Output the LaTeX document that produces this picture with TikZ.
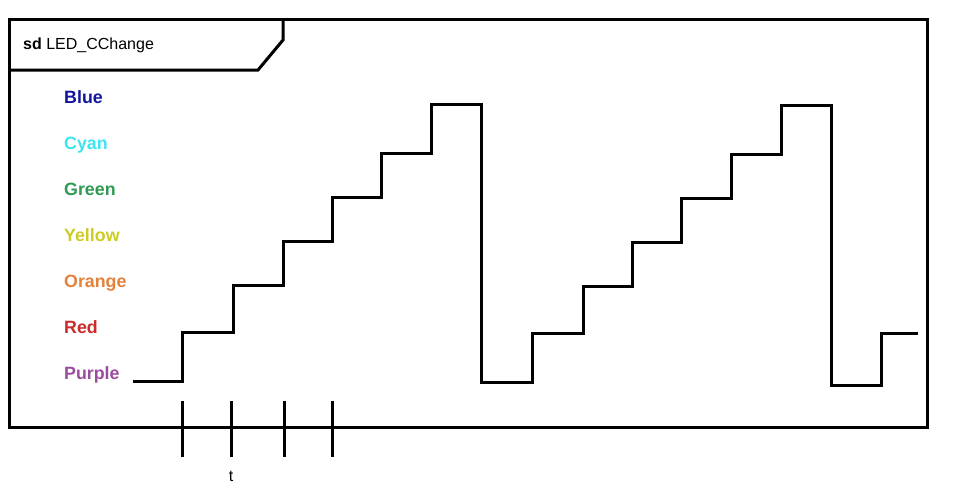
\documentclass[tikz,border=0pt]{standalone}
\usepackage{fontspec}
\setmainfont{Liberation Sans}
\definecolor{cblue}{HTML}{14149C}
\definecolor{ccyan}{HTML}{3CE6F0}
\definecolor{cgreen}{HTML}{2E9A52}
\definecolor{cyellow}{HTML}{CCCC22}
\definecolor{corange}{HTML}{E4823C}
\definecolor{cred}{HTML}{CC2A2A}
\definecolor{cpurple}{HTML}{9A4C9E}
\begin{document}
\begin{tikzpicture}[x=1pt,y=-1pt,
  line/.style={line width=3pt,line join=miter},
  lvl/.style={anchor=base west,inner sep=0pt,font=\fontsize{17.8}{18}\selectfont\bfseries}]
\useasboundingbox[fill=white] (0,0) rectangle (965,499);
% frame
\draw[line] (9,19) rectangle (927,427);
\draw[line] (9,70) -- (258,70) -- (283,40) -- (283,19);
\node[anchor=base west,inner sep=0pt,font=\fontsize{16}{16}\selectfont] (title) at (23,49) {\textbf{sd} LED\_CChange};
% levels
\node[lvl,text=cblue]   (blue)   at (64,103) {Blue};
\node[lvl,text=ccyan]   (cyan)   at (64,149) {Cyan};
\node[lvl,text=cgreen]  (green)  at (64,195) {Green};
\node[lvl,text=cyellow] (yellow) at (64,241) {Yellow};
\node[lvl,text=corange] (orange) at (64,287) {Orange};
\node[lvl,text=cred]    (red)    at (64,333) {Red};
\node[lvl,text=cpurple] (purple) at (64,379) {Purple};
% waveform
\draw[line] (133,381) -- (182,381) -- (182,332) -- (233,332) -- (233,285) -- (283,285)
  -- (283,241) -- (332,241) -- (332,197) -- (381,197) -- (381,153) -- (431,153)
  -- (431,104) -- (481,104) -- (481,382) -- (532,382) -- (532,333) -- (583,333)
  -- (583,286) -- (632,286) -- (632,242) -- (681,242) -- (681,198) -- (731,198)
  -- (731,154) -- (781,154) -- (781,105) -- (831,105) -- (831,385) -- (881,385)
  -- (881,333) -- (918,333);
% time ticks
\foreach \x/\n in {182/a,231/b,284/c,332/d} {
  \coordinate (t\n1) at (\x,401);
  \coordinate (t\n2) at (\x,457);
  \draw[line] (t\n1) -- (t\n2);
}
\node[anchor=base,inner sep=0pt,font=\fontsize{16}{16}\selectfont] (tlabel) at (231,481) {t};
\end{tikzpicture}
\end{document}
